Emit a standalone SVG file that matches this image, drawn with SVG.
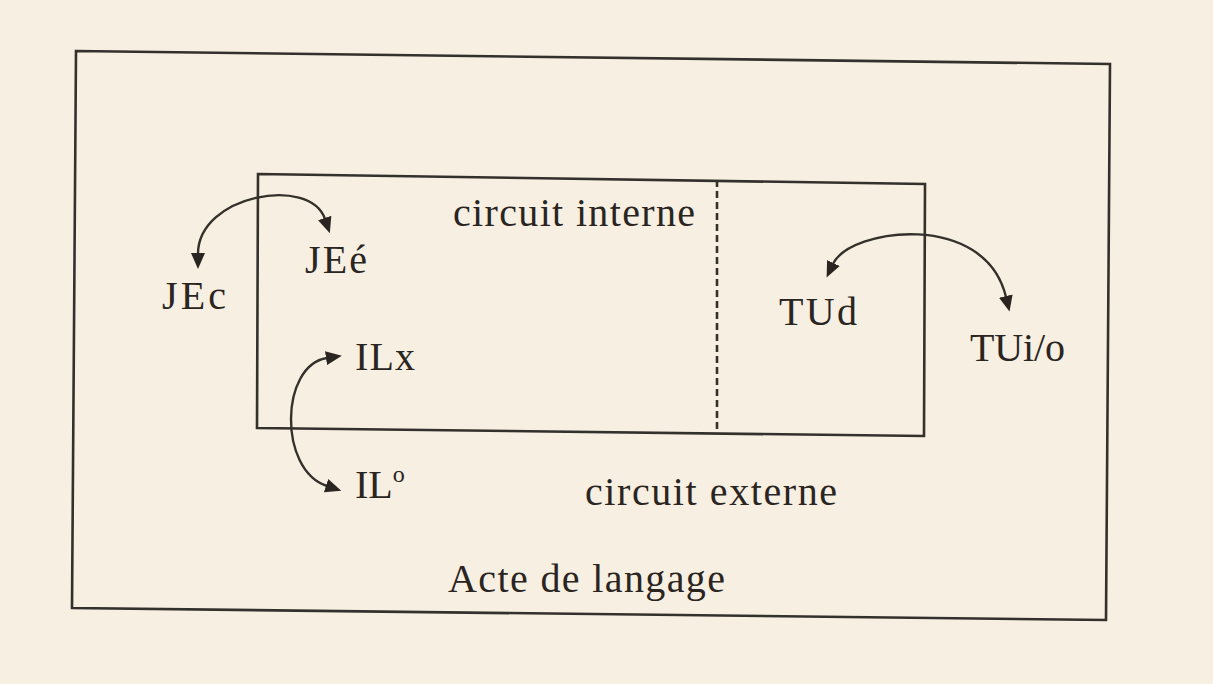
<svg xmlns="http://www.w3.org/2000/svg" width="1213" height="684" viewBox="0 0 1213 684">
<style>
.frame{fill:none;stroke:#34302c;stroke-width:2.6;stroke-linejoin:miter}
.dash{fill:none;stroke:#34302c;stroke-width:2.6;stroke-dasharray:7,4}
.arc{fill:none;stroke:#34302c;stroke-width:2.4}
.lbl{font-family:"Liberation Serif","Times New Roman",serif;font-size:40px;fill:#2a2521}
</style>
<defs>
<marker id="ah" viewBox="0 0 16 14" refX="1" refY="7" markerWidth="16" markerHeight="14" markerUnits="userSpaceOnUse" orient="auto-start-reverse">
<path d="M0,0 L16,7 L0,14 z" fill="#2a2521"/>
</marker>
</defs>
<rect width="1213" height="684" fill="#f7efe1"/>
<g id="acte-de-langage">
<polygon class="frame" points="76,51 1110,64 1106,620 72,608"/>
<text class="lbl" x="448" y="592" textLength="277" lengthAdjust="spacing">Acte de langage</text>
</g>
<g id="circuit-externe">
<text class="lbl" x="585" y="505" textLength="252" lengthAdjust="spacing">circuit externe</text>
</g>
<g id="circuit-interne">
<polygon class="frame" points="258,174 925,184 924,436 257,428"/>
<line class="dash" x1="717" y1="180" x2="717" y2="433"/>
<text class="lbl" x="453" y="226" textLength="242" lengthAdjust="spacing">circuit interne</text>
</g>
<g id="JEc"><text class="lbl" x="162" y="309" textLength="64" lengthAdjust="spacing">JEc</text></g>
<g id="JEe"><text class="lbl" x="305" y="273" textLength="62" lengthAdjust="spacing">JEé</text></g>
<g id="TUd"><text class="lbl" x="779" y="325" textLength="78" lengthAdjust="spacing">TUd</text></g>
<g id="TUio"><text class="lbl" x="970" y="361" textLength="95" lengthAdjust="spacing">TUi/o</text></g>
<g id="ILx"><text class="lbl" x="355" y="370" textLength="60" lengthAdjust="spacing">ILx</text></g>
<g id="ILo"><text class="lbl" x="355" y="498">IL<tspan font-size="24" dy="-16">o</tspan></text></g>
<g id="connectors">
<path class="arc" d="M198,254 C198,195 310,175 325,219" marker-start="url(#ah)" marker-end="url(#ah)"/>
<path class="arc" d="M833,264 C850,228 985,210 1006,297" marker-start="url(#ah)" marker-end="url(#ah)"/>
<path class="arc" d="M327,358 C280,365 278,470 327,486" marker-start="url(#ah)" marker-end="url(#ah)"/>
</g>
</svg>
